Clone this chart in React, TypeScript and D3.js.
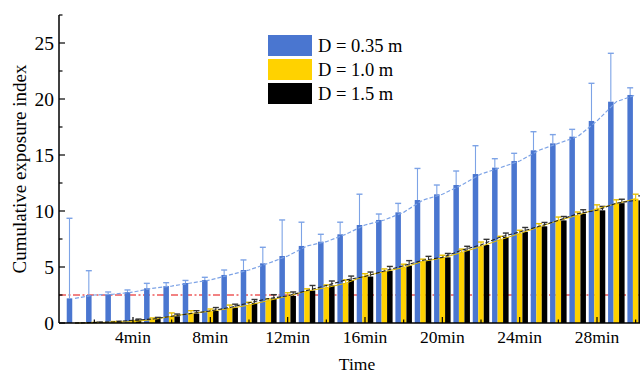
import React from "react";
import * as d3 from "d3";

const minutes = d3.range(1, 31);
const blueVals = [2.2, 2.5, 2.57, 2.76, 3.1, 3.3, 3.57, 3.84, 4.29, 4.73, 5.33, 5.98, 6.88, 7.26, 7.92, 8.75, 9.2, 9.88, 10.98, 11.49, 12.32, 13.3, 13.87, 14.46, 15.42, 16.04, 16.64, 18.04, 19.76, 20.36];
const blueErr = [7.15, 2.17, 0.2, 0.19, 0.44, 0.3, 0.23, 0.24, 0.44, 0.9, 1.43, 3.22, 2.12, 0.66, 1.08, 2.75, 0.53, 0.8, 2.82, 0.83, 1.25, 2.53, 0.8, 0.69, 1.66, 0.78, 0.65, 3.36, 4.32, 0.64];
const yellowVals = [0, 0.03, 0.08, 0.12, 0.3, 0.6, 0.85, 1.05, 1.3, 1.6, 2.0, 2.4, 2.85, 3.15, 3.55, 4.2, 4.58, 4.95, 5.5, 5.8, 6.3, 6.83, 7.44, 7.98, 8.57, 9.16, 9.61, 10.2, 10.65, 11.1];
const yellowErr = [0, 0.02, 0.05, 0.08, 0.15, 0.3, 0.25, 0.2, 0.3, 0.25, 0.15, 0.3, 0.2, 0.25, 0.3, 0.2, 0.25, 0.3, 0.2, 0.25, 0.3, 0.4, 0.3, 0.3, 0.3, 0.3, 0.3, 0.35, 0.35, 0.4];
const blackVals = [0, 0.05, 0.1, 0.25, 0.35, 0.6, 0.85, 1.08, 1.38, 1.8, 2.18, 2.42, 2.9, 3.35, 3.84, 4.15, 4.65, 5.12, 5.6, 5.86, 6.5, 6.97, 7.68, 8.13, 8.63, 9.16, 9.76, 10.06, 10.7, 10.95];
const blackErr = [0, 0.03, 0.05, 0.1, 0.15, 0.2, 0.25, 0.3, 0.3, 0.3, 0.35, 0.35, 0.45, 0.4, 0.35, 0.4, 0.4, 0.45, 0.35, 0.35, 0.35, 0.5, 0.35, 0.4, 0.35, 0.35, 0.35, 0.35, 0.35, 0.4];
const xTickVals = [4, 8, 12, 16, 20, 24, 28];
const xTickLabels = ["4min", "8min", "12min", "16min", "20min", "24min", "28min"];
const xMinorTicks = [2, 6, 10, 14, 18, 22, 26, 30];
const yTicks = [0, 5, 10, 15, 20, 25];
const yMinor = [2.5, 7.5, 12.5, 17.5, 22.5, 27.5];
const thresholdValue = 2.5;
const legendLabels = ["D = 0.35 m", "D = 1.0 m", "D = 1.5 m"];

const BLUE = "#4a76d0";
const BLUE_LIGHT = "#7da3e6";
const YELLOW = "#ffd200";
const BLACK = "#000000";
const FONT = "'Liberation Serif', 'Times New Roman', serif";

export default function App() {
  const W = 640, H = 374;
  const x = d3.scaleLinear().domain([4, 28]).range([133, 597]);
  const y = d3.scaleLinear().domain([0, 27.5]).range([323, 15]);
  const left = 59, right = 640, base = y(0);
  const bw = (x(1) - x(0)) * 0.285;

  const series = [
    { vals: blueVals, err: blueErr, color: BLUE, errColor: BLUE_LIGHT, off: -1 },
    { vals: yellowVals, err: yellowErr, color: YELLOW, errColor: "#e6bf00", off: 0 },
    { vals: blackVals, err: blackErr, color: BLACK, errColor: "#333333", off: 1 },
  ];

  const line = (vals: number[]) =>
    d3.line<number>().x((_, i) => x(minutes[i])).y((v) => y(v))(vals) || "";

  return (
    <svg width={W} height={H} style={{ position: "absolute", left: 0, top: 0, background: "#fff" }} fontFamily={FONT}>
      <defs>
        <clipPath id="plot">
          <rect x={left} y={0} width={right - left} height={base + 1} />
        </clipPath>
      </defs>
      <g clipPath="url(#plot)">
        <line x1={left} x2={right} y1={y(thresholdValue)} y2={y(thresholdValue)} stroke="#ee5a5a" strokeWidth={1.4} strokeDasharray="7,2.5,2,2.5" />
        {series.map((s, si) =>
          s.vals.map((v, i) => {
            const cx = x(minutes[i]) + s.off * bw;
            if (v <= 0) return null;
            return (
              <rect key={`b${si}-${i}`} x={cx - bw / 2} y={y(v)} width={bw} height={base - y(v)} fill={s.color} />
            );
          })
        )}
        {series.map((s, si) =>
          s.vals.map((v, i) => {
            if (v <= 0 || s.err[i] <= 0) return null;
            const cx = x(minutes[i]) + s.off * bw;
            const top = y(v + s.err[i]);
            return (
              <g key={`e${si}-${i}`} stroke={s.errColor} strokeWidth={1.1}>
                <line x1={cx} x2={cx} y1={y(v)} y2={top} />
                <line x1={cx - 3} x2={cx + 3} y1={top} y2={top} strokeWidth={1.4} />
              </g>
            );
          })
        )}
        <path d={line(blueVals)} fill="none" stroke={BLUE_LIGHT} strokeWidth={1.2} strokeDasharray="4,2" />
        <path d={line(yellowVals)} fill="none" stroke="#e6c000" strokeWidth={1} />
        <path d={line(blackVals)} fill="none" stroke="#222" strokeWidth={1.1} strokeDasharray="4,2" />
      </g>
      <line x1={left} x2={right} y1={base} y2={base} stroke="#000" strokeWidth={1.5} />
      <line x1={left} x2={left} y1={y(27.5)} y2={base} stroke="#000" strokeWidth={1.5} />
      {yTicks.map((t) => (
        <g key={`yt${t}`}>
          <line x1={left} x2={left + 6} y1={y(t)} y2={y(t)} stroke="#000" strokeWidth={1.2} />
          <text x={left - 5} y={y(t)} dy="0.35em" textAnchor="end" fontSize={19.5}>{t}</text>
        </g>
      ))}
      {yMinor.map((t) => (
        <line key={`ym${t}`} x1={left} x2={left + 3.5} y1={y(t)} y2={y(t)} stroke="#000" strokeWidth={1.2} />
      ))}
      {xTickVals.map((t, i) => (
        <g key={`xt${t}`}>
          <line x1={x(t)} x2={x(t)} y1={base} y2={base - 6} stroke="#000" strokeWidth={1.2} />
          <text x={x(t)} y={base + 20} textAnchor="middle" fontSize={17.5}>{xTickLabels[i]}</text>
        </g>
      ))}
      {xMinorTicks.map((t) => (
        <line key={`xm${t}`} x1={x(t)} x2={x(t)} y1={base} y2={base - 3.5} stroke="#000" strokeWidth={1.2} />
      ))}
      <text x={357} y={370} textAnchor="middle" fontSize={17.5}>Time</text>
      <text transform={`translate(26,169) rotate(-90)`} textAnchor="middle" fontSize={19}>Cumulative exposure index</text>
      {legendLabels.map((lab, i) => (
        <g key={lab} transform={`translate(268,${35 + i * 24})`}>
          <rect x={0} y={0} width={44} height={21} fill={series[i].color} />
          <text x={50} y={17} fontSize={18.5}>{lab}</text>
        </g>
      ))}
    </svg>
  );
}
